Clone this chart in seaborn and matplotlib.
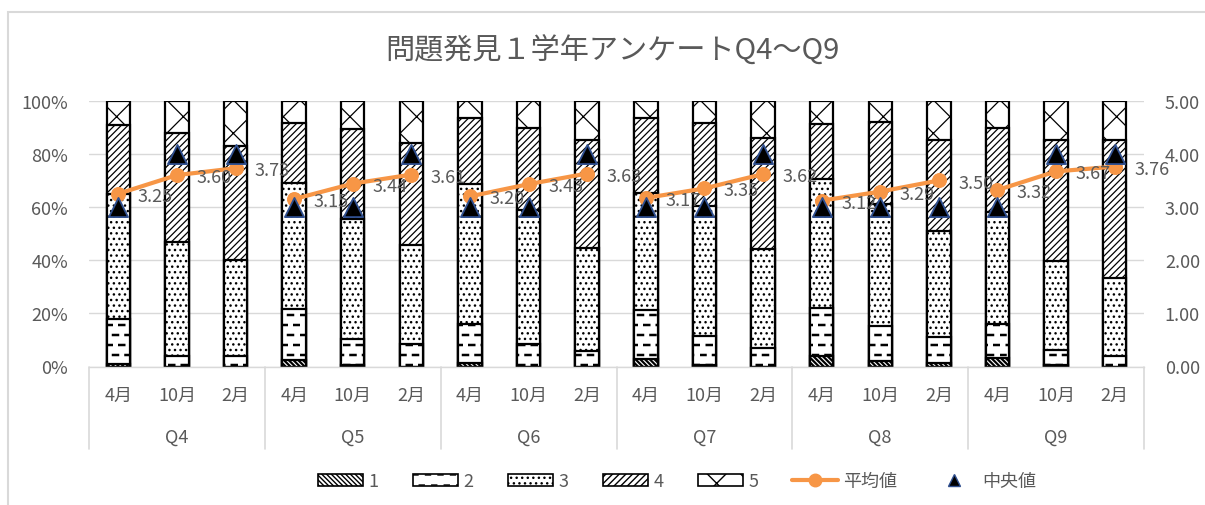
import numpy as np
import pandas as pd
import matplotlib
matplotlib.use("Agg")
import matplotlib.pyplot as plt
import matplotlib.patches as mpatches
import matplotlib.hatch as mhatch
from matplotlib.path import Path
from matplotlib.lines import Line2D
import matplotlib.transforms as mtransforms
import seaborn as sns

# ---------------- data ----------------
questions = ["Q4", "Q5", "Q6", "Q7", "Q8", "Q9"]
months = ["4月", "10月", "2月"]
r1 = [1.0, 0.0, 0.0, 2.5, 0.5, 0.0, 1.2, 0.0, 0.0, 2.7, 0.6, 0.0, 4.1, 2.2, 1.4, 3.1, 0.5, 0.0]
r2 = [17.0, 4.0, 4.0, 19.0, 10.0, 8.4, 14.8, 8.5, 6.0, 18.4, 11.0, 6.9, 17.9, 12.9, 9.7, 12.9, 5.8, 4.1]
r3 = [47.0, 43.0, 36.0, 47.4, 45.0, 37.2, 52.8, 50.3, 38.6, 44.2, 48.9, 37.2, 48.4, 46.1, 40.0, 42.3, 33.4, 29.3]
r4 = [26.0, 41.0, 43.0, 22.7, 34.0, 38.6, 24.6, 31.0, 40.7, 28.1, 31.0, 41.7, 20.7, 30.9, 34.3, 31.3, 45.7, 51.8]
r5 = [9.0, 12.0, 17.0, 8.4, 10.5, 15.8, 6.6, 10.2, 14.7, 6.6, 8.5, 14.2, 8.9, 7.9, 14.6, 10.4, 14.6, 14.8]
means = [3.25, 3.60, 3.73, 3.15, 3.44, 3.61, 3.20, 3.43, 3.63, 3.17, 3.35, 3.62, 3.12, 3.29, 3.50, 3.32, 3.67, 3.76]
medians = [3, 4, 4, 3, 3, 4, 3, 3, 4, 3, 3, 4, 3, 3, 3, 3, 4, 4]
level_labels = ["1", "2", "3", "4", "5"]
title = "問題発見１学年アンケートQ4～Q9"

# ---------------- custom dashed hatch (uses '*') ----------------
class DashHatch(mhatch.HatchPatternBase):
    def __init__(self, hatch, density):
        n = hatch.count('*')
        self.rows = 10 * n
        self.cols = 8
        self.num_vertices = self.rows * self.cols * 2

    def set_vertices_and_codes(self, vertices, codes):
        k = 0
        L = 0.05
        for i in range(self.rows):
            y = (i + 0.5) / self.rows
            off = 0.5 / self.cols if i % 2 else 0.0
            for j in range(self.cols):
                x0 = j / self.cols + off + 0.005
                vertices[k] = (x0, y)
                vertices[k + 1] = (x0 + L, y)
                codes[k] = Path.MOVETO
                codes[k + 1] = Path.LINETO
                k += 2

try:
    mhatch._hatch_types[:] = [t for t in mhatch._hatch_types if t is not mhatch.Stars] + [DashHatch]
    dash_hatch = '*'
except Exception:
    dash_hatch = '-'

hatches = ['\\' * 7, dash_hatch, '...', '/' * 5, 'x']
hatch_lw = [1.6, 1.8, 1.0, 0.9, 0.9]

# ---------------- frame ----------------
keys = [f"{q}-{m}" for q in questions for m in months]
df = pd.DataFrame({"key": keys, "r1": r1, "r2": r2, "r3": r3, "r4": r4, "r5": r5,
                   "mean": means, "median": medians})
df["pos"] = np.arange(len(df))
df["group"] = [k.split("-")[0] for k in keys]
levels = ["r1", "r2", "r3", "r4", "r5"]
cum = df[levels].cumsum(axis=1) / 100.0

sns.set_style("white")
plt.rcParams['font.family'] = ['Noto Sans CJK JP', 'DejaVu Sans']
TXT = "#595959"
GRID = "#d9d9d9"

fig = plt.figure(figsize=(12.05, 5.06), dpi=100)
ax = fig.add_axes([89 / 1205, 1 - 367.5 / 506, (1144 - 89) / 1205, (367.5 - 101.7) / 506])

for i in reversed(range(5)):
    d = pd.DataFrame({"key": keys, "v": cum[levels[i]].values})
    with plt.rc_context({"hatch.linewidth": hatch_lw[i]}):
        sns.barplot(data=d, x="key", y="v", order=keys, color="white", saturation=1,
                    edgecolor="black", linewidth=1.6, hatch=hatches[i], width=0.4,
                    errorbar=None, ax=ax, zorder=2)

ax.set_xlim(-0.5, len(keys) - 0.5)
ax.set_ylim(0, 1)
ax.set_yticks(np.linspace(0, 1, 6))
ax.set_yticklabels([f"{int(v*100)}%" for v in np.linspace(0, 1, 6)])
ax.yaxis.grid(True, color=GRID, lw=1.0, zorder=0)
ax.set_axisbelow(True)
ax.set_xlabel("")
ax.set_ylabel("")
for s in ["top", "left", "right"]:
    ax.spines[s].set_visible(False)
ax.spines["bottom"].set_color(GRID)
ax.spines["bottom"].set_linewidth(1.0)
ax.set_xticks(df["pos"])
ax.set_xticklabels([k.split("-")[1] for k in keys])
ax.tick_params(axis="x", length=0, pad=14, labelsize=13, labelcolor=TXT)
ax.tick_params(axis="y", length=0, pad=15, labelsize=13, labelcolor=TXT)

# group separators and group labels
trans = mtransforms.blended_transform_factory(ax.transData, ax.transAxes)
for b in np.arange(-0.5, len(keys), 3):
    ax.plot([b, b], [0, -0.31], color=GRID, lw=1.2, transform=trans, clip_on=False)
for gi, q in enumerate(questions):
    ax.text(gi * 3 + 1, -0.265, q, transform=trans, ha="center", va="center",
            fontsize=13, color=TXT)

# secondary axis
ax2 = ax.twinx()
sns.lineplot(data=df, x="pos", y="mean", units="group", estimator=None, ax=ax2,
             color="#F79646", lw=3.0, marker="o", markersize=10, markeredgecolor="#F79646",
             zorder=4, legend=False)
sns.scatterplot(data=df, x="pos", y="median", ax=ax2, marker="^", s=190,
                color="black", edgecolor="#2F4F8F", linewidth=1.3, zorder=5, legend=False)
for p, m in zip(df["pos"], df["mean"]):
    ax2.annotate(f"{m:.2f}", (p, m), xytext=(14, -1.5), textcoords="offset points",
                 ha="left", va="center", fontsize=13, color=TXT, zorder=6)
ax2.set_ylim(0, 5)
ax2.set_yticks(np.arange(0, 5.01, 1))
ax2.set_yticklabels([f"{v:.2f}" for v in np.arange(0, 5.01, 1)])
ax2.tick_params(axis="y", length=0, pad=15, labelsize=13, labelcolor=TXT)
ax2.set_xlabel("")
ax2.set_ylabel("")
ax2.grid(False)
for s in ax2.spines.values():
    s.set_visible(False)
ax2.set_xlim(-0.5, len(keys) - 0.5)

# title
fig.text(612 / 1205, 1 - 52 / 506, title, ha="center", va="center", fontsize=21, color=TXT)

# legend
handles = []
for i in range(5):
    with plt.rc_context({"hatch.linewidth": hatch_lw[i]}):
        handles.append(mpatches.Patch(facecolor="white", edgecolor="black", lw=1.2,
                                      hatch=hatches[i], label=level_labels[i]))
handles.append(Line2D([], [], color="#F79646", lw=3.0, marker="o", markersize=9,
                      label="平均値"))
handles.append(Line2D([], [], color="none", marker="^", markersize=9,
                      markerfacecolor="black", markeredgecolor="#2F4F8F", label="中央値"))
fig.legend(handles=handles, loc="center", bbox_to_anchor=(677 / 1205, 1 - 482 / 506),
           ncol=7, frameon=False, fontsize=13, labelcolor=TXT, handlelength=2.5,
           handleheight=0.65, handletextpad=0.3, columnspacing=1.9)

# chart border (top and left visible)
fig.add_artist(mpatches.Rectangle((8 / 1205, -0.1), 1.2, 1 - 13 / 506 + 0.1,
                                  transform=fig.transFigure, fill=False,
                                  edgecolor=GRID, lw=1.5))

fig.savefig("out.png", dpi=100)
